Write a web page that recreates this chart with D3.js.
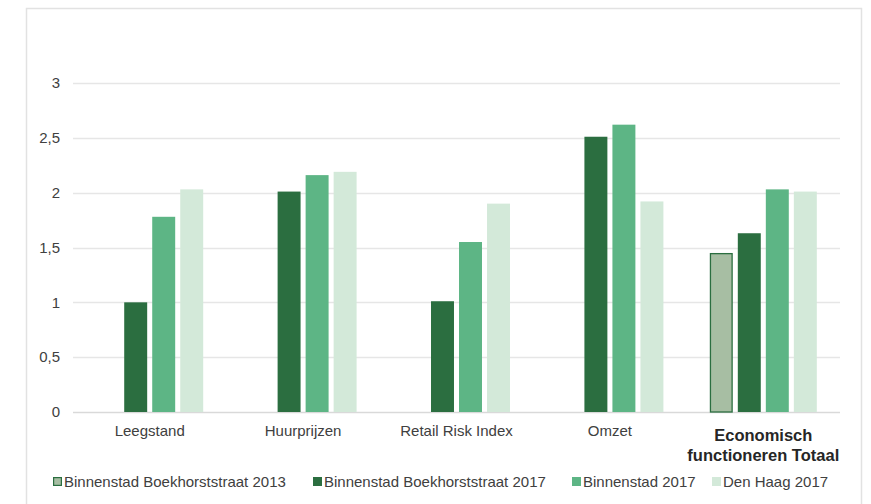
<!DOCTYPE html>
<html><head><meta charset="utf-8">
<script src="https://cdn.jsdelivr.net/npm/d3@7"></script>
<style>body{margin:0;background:#fff;} svg{display:block;font-family:"Liberation Sans",Arial,sans-serif;}</style>
</head><body><svg id="c" width="871" height="504"></svg>
<script>
const categories = ["Leegstand","Huurprijzen","Retail Risk Index","Omzet","Economisch functioneren Totaal"];
const seriesNames = ["Binnenstad Boekhorststraat 2013","Binnenstad Boekhorststraat 2017","Binnenstad 2017","Den Haag 2017"];
const s2013 = [null,null,null,null,1.45];
const sBB2017 = [1.0,2.01,1.01,2.51,1.63];
const sBinnen2017 = [1.78,2.16,1.55,2.62,2.03];
const sDH2017 = [2.03,2.19,1.90,1.92,2.01];
const yTicks = [0,0.5,1,1.5,2,2.5,3];
const colors = ["#a7bea3","#2b6e40","#5db585","#d3e9d9"];
const series = [s2013,sBB2017,sBinnen2017,sDH2017];

(function(){
const svg = d3.select("#c");
svg.append("rect").attr("x",26.5).attr("y",8.5).attr("width",835).attr("height",510)
  .attr("fill","#fff").attr("stroke","#e2e2e2").attr("stroke-width",1.5);

const pl=73,pr=840,pt=83,pb=412;
const x = d3.scaleBand().domain(categories).range([pl,pr]).paddingInner(0).paddingOuter(0);
const y = d3.scaleLinear().domain([0,3]).range([pb,pt]);

const grid = svg.append("g");
yTicks.forEach(t=>{
  grid.append("line").attr("x1",pl).attr("x2",pr).attr("y1",Math.round(y(t))+0.5).attr("y2",Math.round(y(t))+0.5)
    .attr("stroke", t===0?"#d9d9d9":"#e6e6e6").attr("stroke-width",1.3);
});
const yAxis = d3.axisLeft(y).tickValues(yTicks).tickSize(0).tickPadding(0)
  .tickFormat(d=>String(d).replace(".",","));
const ya = svg.append("g").attr("transform",`translate(${pl-13},0)`).call(yAxis);
ya.select(".domain").remove();
ya.selectAll("text").attr("font-size",15).attr("fill","#404040").attr("font-family","Liberation Sans, Arial, sans-serif");

const inner = d3.scaleBand().domain(d3.range(4)).range([0,107]).paddingInner(0.18).paddingOuter(0);
const bars = svg.append("g");
categories.forEach((c,i)=>{
  const cx = x(c)+x.bandwidth()/2 - 53.5;
  series.forEach((s,j)=>{
    const v=s[i]; if(v==null) return;
    const r = bars.append("rect").attr("x",cx+inner(j)).attr("width",inner.bandwidth())
      .attr("y",y(v)).attr("height",y(0)-y(v)).attr("fill",colors[j]);
    if(j===0) r.attr("stroke","#2b6e40").attr("stroke-width",1.3)
      .attr("x",cx+inner(j)+0.65).attr("width",inner.bandwidth()-1.3).attr("y",y(v)+0.65).attr("height",y(0)-y(v)-0.65);
  });
});

const xl = svg.append("g");
categories.forEach((c,i)=>{
  const cx = x(c)+x.bandwidth()/2;
  if(i===4){
    const t = xl.append("text").attr("x",cx).attr("text-anchor","middle").attr("font-size",16.5).attr("font-weight","bold").attr("fill","#262626");
    t.append("tspan").attr("x",cx).attr("y",441).text("Economisch");
    t.append("tspan").attr("x",cx).attr("y",461).text("functioneren Totaal");
  } else {
    xl.append("text").attr("x",cx).attr("y",436).attr("text-anchor","middle").attr("font-size",15).attr("fill","#404040").text(c);
  }
});

const legendX = [53,313,572,712];
const lg = svg.append("g");
seriesNames.forEach((n,j)=>{
  const r = lg.append("rect").attr("x",legendX[j]).attr("y",477).attr("width",9).attr("height",9).attr("fill",colors[j]);
  if(j===0) r.attr("stroke","#2b6e40").attr("stroke-width",1.2).attr("x",legendX[j]+0.6).attr("y",477.6).attr("width",7.8).attr("height",7.8);
  lg.append("text").attr("x",legendX[j]+11).attr("y",487).attr("font-size",15).attr("fill","#404040").text(n);
});
})();
</script></body></html>
